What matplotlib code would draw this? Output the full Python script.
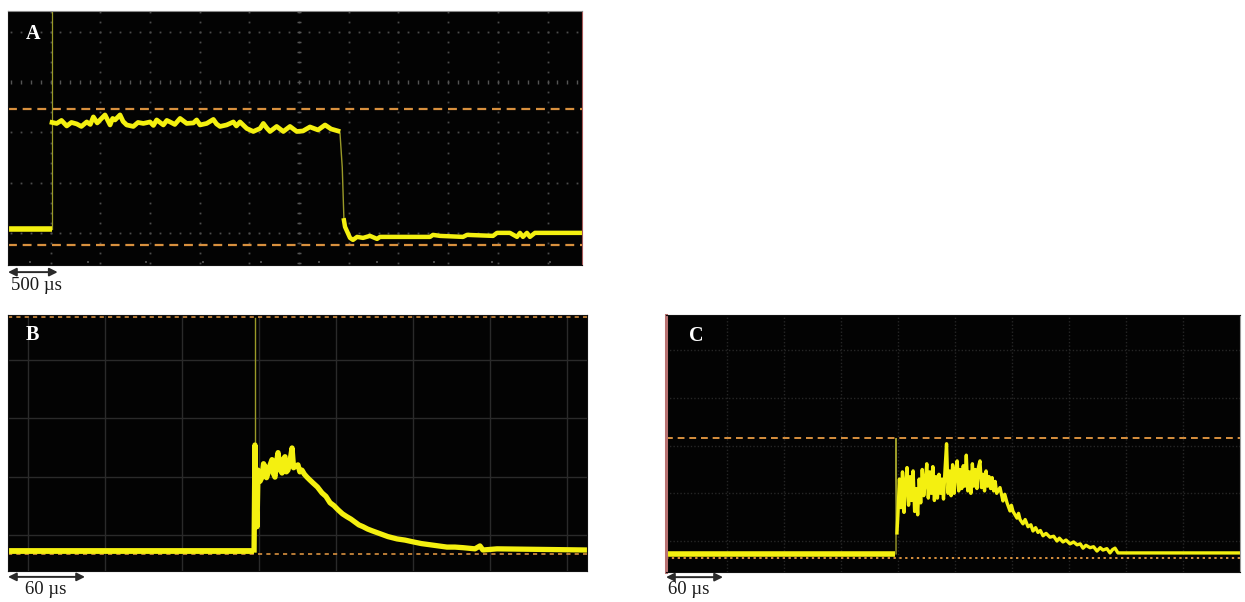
import numpy as np
import matplotlib.pyplot as plt

# ---------------- Panel A (500 us/div), amplitude in divisions ----------------
a_pre_t = [-428, 15]
a_pre_v = [0.08, 0.08]
a_edge_t = [15, 15]
a_edge_v = [0.08, 4.42]
a_high_t = [15, 62, 110, 163, 210, 264, 310, 364, 400, 431, 470, 498, 548, 599, 625, 649, 699,
            730, 766, 833, 880, 934, 1001, 1035, 1068, 1135, 1170, 1202, 1250, 1303, 1370, 1437,
            1470, 1504, 1571, 1638, 1670, 1705, 1772, 1839, 1870, 1906, 1974, 2040, 2108, 2141,
            2175, 2208, 2275, 2342, 2409, 2477, 2540, 2610, 2691, 2762, 2822, 2892]
a_high_v = [2.20, 2.18, 2.24, 2.13, 2.20, 2.17, 2.12, 2.21, 2.16, 2.31, 2.19, 2.25, 2.35, 2.15, 2.28, 2.25, 2.35,
            2.22, 2.15, 2.12, 2.20, 2.18, 2.21, 2.14, 2.25, 2.15, 2.24, 2.21, 2.16, 2.28, 2.18, 2.19,
            2.25, 2.15, 2.18, 2.26, 2.17, 2.12, 2.15, 2.21, 2.13, 2.21, 2.08, 2.02, 2.08, 2.18,
            2.09, 2.02, 2.12, 2.02, 2.12, 2.02, 2.03, 2.11, 2.05, 2.15, 2.07, 2.03]
a_fall_t = [2892, 2912, 2935, 2952]
a_fall_v = [2.03, 1.99, 1.30, 0.25]
a_low_t = [2952, 2963, 3013, 3043, 3084, 3144, 3214, 3285, 3315, 3818, 3848, 3918, 4150, 4190,
           4452, 4492, 4622, 4693, 4723, 4753, 4793, 4823, 4874, 5357]
a_low_v = [0.25, 0.12, -0.10, -0.14, -0.08, -0.10, -0.06, -0.12, -0.08, -0.08, -0.04, -0.06, -0.08, -0.04,
           -0.06, 0.00, 0.00, -0.08, 0.00, -0.08, 0.00, -0.08, 0.00, 0.00]
a_levels = [2.47, -0.24]

# ---------------- Panel B (60 us/div) ----------------
b_pre_t = [-15.6, 176.1]
b_pre_v = [-0.27, -0.27]
b_spike_t = [176.8, 176.8]
b_spike_v = [-0.27, 3.72]
b_pulse_t = [176.1, 176.8, 177.6, 178.4, 179.2, 180.8, 182.3, 183.5, 184.6, 185.8, 187.0, 188.6,
             190.1, 191.2, 192.4, 193.6, 194.8, 196.3, 197.9, 199.0, 200.2, 201.3, 202.5, 204.1,
             205.7, 206.9, 208.0, 210.3, 211.8, 213.4, 215.3, 217.3, 219.6, 222.0, 225.5, 229.0,
             232.1, 235.3, 238.4, 241.5, 245.0, 248.5, 251.6, 254.7, 257.8, 261.0, 264.5, 268.0,
             274.2, 280.4, 287.5, 293.7, 299.9, 306.5, 313.2, 319.8, 326.4, 332.6, 338.9, 348.2,
             352.1, 354.4, 365.4, 435.5]
b_pulse_v = [-0.26, 1.54, 0.60, 0.14, 1.11, 0.92, 0.99, 1.22, 1.17, 0.98, 1.06, 1.20,
             1.29, 1.05, 0.99, 1.25, 1.41, 1.12, 1.06, 1.30, 1.34, 1.08, 1.11, 1.26,
             1.49, 1.15, 1.17, 1.20, 1.08, 1.11, 1.04, 0.99, 0.94, 0.89, 0.82, 0.72,
             0.66, 0.55, 0.50, 0.43, 0.36, 0.31, 0.27, 0.22, 0.17, 0.14, 0.10, 0.07,
             0.02, -0.03, -0.07, -0.09, -0.12, -0.15, -0.17, -0.19, -0.21, -0.21, -0.22, -0.24,
             -0.19, -0.26, -0.24, -0.26]
b_levels = [3.74, -0.33]

# ---------------- Panel C (60 us/div) ----------------
c_pre_t = [-4.2, 237]
c_pre_v = [-0.27, -0.27]
c_spike_t = [238, 238, 239]
c_spike_v = [-0.27, 2.15, 0.17]
c_pulse_t = [239.0, 240.0, 241.6, 243.2, 244.8, 246.4, 248.0, 249.6, 251.2, 252.8, 254.4, 256.0,
             257.6, 259.2, 260.8, 262.4, 264.0, 265.6, 267.2, 268.8, 270.4, 272.0, 273.6, 275.2,
             276.8, 278.4, 280.0, 281.6, 283.2, 284.8, 286.4, 288.0, 289.6, 291.2, 292.8, 294.4,
             296.0, 297.6, 299.2, 300.8, 302.4, 304.0, 305.6, 307.2, 308.8, 310.4, 312.0, 313.6,
             315.2, 316.8, 318.4, 320.0, 321.6, 323.2, 324.8, 326.4, 328.0, 329.6, 331.2, 332.8,
             334.4, 336.0, 337.6, 339.2, 340.8, 342.4, 344.0, 347.5, 350.6, 352.5, 354.9, 358.0,
             359.5, 361.2, 365.4, 367.0, 368.6, 371.7, 374.0, 377.0, 380.0, 382.2, 385.0, 387.5,
             390.0, 392.8, 396.0, 400.1, 404.0, 407.5, 410.0, 413.8, 417.0, 421.2, 425.0, 428.6,
             432.0, 434.9, 438.0, 442.3, 446.0, 449.6, 453.0, 455.9, 460.0, 463.3, 466.0, 468.6,
             471.7, 600.2]
c_pulse_v = [0.17, 0.55, 1.30, 0.70, 1.45, 0.60, 1.20, 1.54, 0.75, 1.35, 0.85, 1.47,
             0.62, 1.10, 0.55, 1.30, 0.80, 1.50, 0.95, 1.25, 1.62, 0.90, 1.45, 1.00,
             1.56, 0.85, 1.35, 0.90, 1.40, 1.00, 1.30, 0.88, 1.50, 2.04, 1.00, 1.47,
             0.95, 1.60, 1.00, 1.45, 1.68, 1.05, 1.50, 1.10, 1.58, 1.15, 1.80, 1.05,
             1.45, 1.00, 1.62, 1.15, 1.50, 1.10, 1.55, 1.68, 1.12, 1.40, 1.05, 1.47,
             1.15, 1.35, 1.10, 1.33, 1.05, 1.25, 1.00, 1.12, 0.84, 0.98, 0.80, 0.63,
             0.75, 0.62, 0.48, 0.58, 0.45, 0.36, 0.45, 0.30, 0.34, 0.21, 0.28, 0.18,
             0.22, 0.11, 0.16, 0.08, 0.10, 0.00, 0.06, -0.02, 0.02, -0.06, -0.02, -0.08,
             -0.06, -0.15, -0.09, -0.14, -0.12, -0.21, -0.14, -0.19, -0.16, -0.25, -0.18, -0.15,
             -0.25, -0.25]
c_levels = [2.15, -0.36]

TRACE = '#f4f010'
FAINT = '#9a9a28'
ORANGE = '#d8903e'
SERIF = ['Liberation Serif', 'DejaVu Serif']

fig = plt.figure(figsize=(12.45, 6.02), dpi=100)
fig.patch.set_facecolor('white')


def scope_axes(rect, xlim, ylim):
    ax = fig.add_axes(rect)
    ax.set_facecolor('#030303')
    ax.set_xlim(*xlim)
    ax.set_ylim(*ylim)
    ax.set_xticks([])
    ax.set_yticks([])
    for s in ax.spines.values():
        s.set_color('#111111')
        s.set_linewidth(0.8)
    return ax


def scale_bar(ax, x0, width, y, label, ytext, xtext):
    ax.annotate('', xy=(x0 + width, y), xytext=(x0, y),
                xycoords=('data', 'axes fraction'),
                arrowprops=dict(arrowstyle='<|-|>', color='#2a2a2a', lw=1.4,
                                mutation_scale=12, shrinkA=0, shrinkB=0),
                annotation_clip=False)
    ax.annotate(label, xy=(xtext, ytext), xycoords=('data', 'axes fraction'),
                ha='left', va='center', fontsize=13.5, family=SERIF, color='#1a1a1a',
                annotation_clip=False)


# ---------- A ----------
axA = scope_axes([8 / 1245, 1 - 265 / 602, 574 / 1245, 254 / 602], (-428, 5347), (-0.64, 4.42))
axA.spines['right'].set_color('#a85a5a')
axA.spines['top'].set_color('#8a8a8a')
dots_x = np.arange(-400, 5347, 100)
dots_y = np.arange(-0.6, 4.42, 0.2)
for gx in np.arange(0, 5347, 500):
    axA.plot(np.full(dots_y.size, gx), dots_y, ls='none', marker='s', ms=1.3, mew=0, color='#4c4c4c')
for gy in [0, 1, 2, 4]:
    axA.plot(dots_x, np.full(dots_x.size, gy), ls='none', marker='s', ms=1.3, mew=0, color='#4c4c4c')
axA.plot(dots_x, np.full(dots_x.size, 3), ls='none', marker='|', ms=3.5, mew=1.0, color='#555555')
axA.plot(np.full(dots_y.size, 2500), dots_y, ls='none', marker='_', ms=3.5, mew=1.0, color='#555555')
bx = np.arange(-206, 5347, 581)
axA.plot(bx, np.full(bx.size, -0.58), ls='none', marker='s', ms=1.5, mew=0, color='#4a4a4a')
for lv in a_levels:
    axA.axhline(lv, color=ORANGE, lw=1.6, ls=(0, (4, 2.6)))
axA.plot(a_edge_t, a_edge_v, color=FAINT, lw=0.9)
axA.plot(a_fall_t, a_fall_v, color=FAINT, lw=1.0)
axA.plot(a_pre_t, a_pre_v, color=TRACE, lw=4.0, solid_capstyle='butt')
axA.plot(a_high_t, a_high_v, color=TRACE, lw=3.4, solid_joinstyle='round')
axA.plot(a_low_t, a_low_v, color=TRACE, lw=3.2, solid_joinstyle='round')
axA.text(0.043, 0.91, 'A', transform=axA.transAxes, color='white', fontsize=14.5,
         fontweight='bold', family=SERIF, ha='center', va='center')
scale_bar(axA, -428, 500, -0.028, '500 µs', -0.079, -400)

# ---------- B ----------
axB = scope_axes([8 / 1245, 31 / 602, 579 / 1245, 256 / 602], (-15.6, 435.5), (-0.62, 3.77))
for gx in np.arange(0, 435, 60):
    axB.axvline(gx, color='#2a2a2a', lw=1.0)
for gy in range(4):
    axB.axhline(gy, color='#2a2a2a', lw=1.0)
for lv in b_levels:
    axB.axhline(lv, color=ORANGE, lw=1.2, ls=(0, (2.5, 2.5)), clip_on=False)
axB.plot(b_spike_t, b_spike_v, color=FAINT, lw=1.0)
axB.plot(b_pre_t, b_pre_v, color=TRACE, lw=4.2, solid_capstyle='butt')
axB.plot(b_pulse_t, b_pulse_v, color=TRACE, lw=3.8, solid_joinstyle='round')
axB.text(0.042, 0.92, 'B', transform=axB.transAxes, color='white', fontsize=14.5,
         fontweight='bold', family=SERIF, ha='center', va='center')
scale_bar(axB, -15.6, 60, -0.023, '60 µs', -0.074, -2)

# ---------- C ----------
axC = scope_axes([666 / 1245, 30 / 602, 574 / 1245, 257 / 602], (-4.2, 600.2), (-0.65, 4.74))
axC.spines['left'].set_color('#b87272')
axC.spines['left'].set_linewidth(2.2)
axC.spines['right'].set_color('#9a9a9a')
for gx in np.arange(60, 600, 60):
    axC.axvline(gx, color='#262626', lw=1.0, ls=(0, (1, 1.5)))
for gy in range(5):
    axC.axhline(gy, color='#262626', lw=1.0, ls=(0, (1, 1.5)))
axC.axhline(c_levels[0], color=ORANGE, lw=1.4, ls=(0, (3.5, 2.5)))
axC.axhline(c_levels[1], color=ORANGE, lw=1.4, ls=(0, (1.2, 1.8)))
axC.plot(c_spike_t, c_spike_v, color=FAINT, lw=1.0)
axC.plot(c_pre_t, c_pre_v, color=TRACE, lw=4.0, solid_capstyle='butt')
axC.plot(c_pulse_t, c_pulse_v, color=TRACE, lw=2.4, solid_joinstyle='round')
axC.text(0.052, 0.92, 'C', transform=axC.transAxes, color='white', fontsize=14.5,
         fontweight='bold', family=SERIF, ha='center', va='center')
scale_bar(axC, -4.2, 60, -0.02, '60 µs', -0.07, -2)

fig.savefig('out.png', dpi=100, facecolor='white')
